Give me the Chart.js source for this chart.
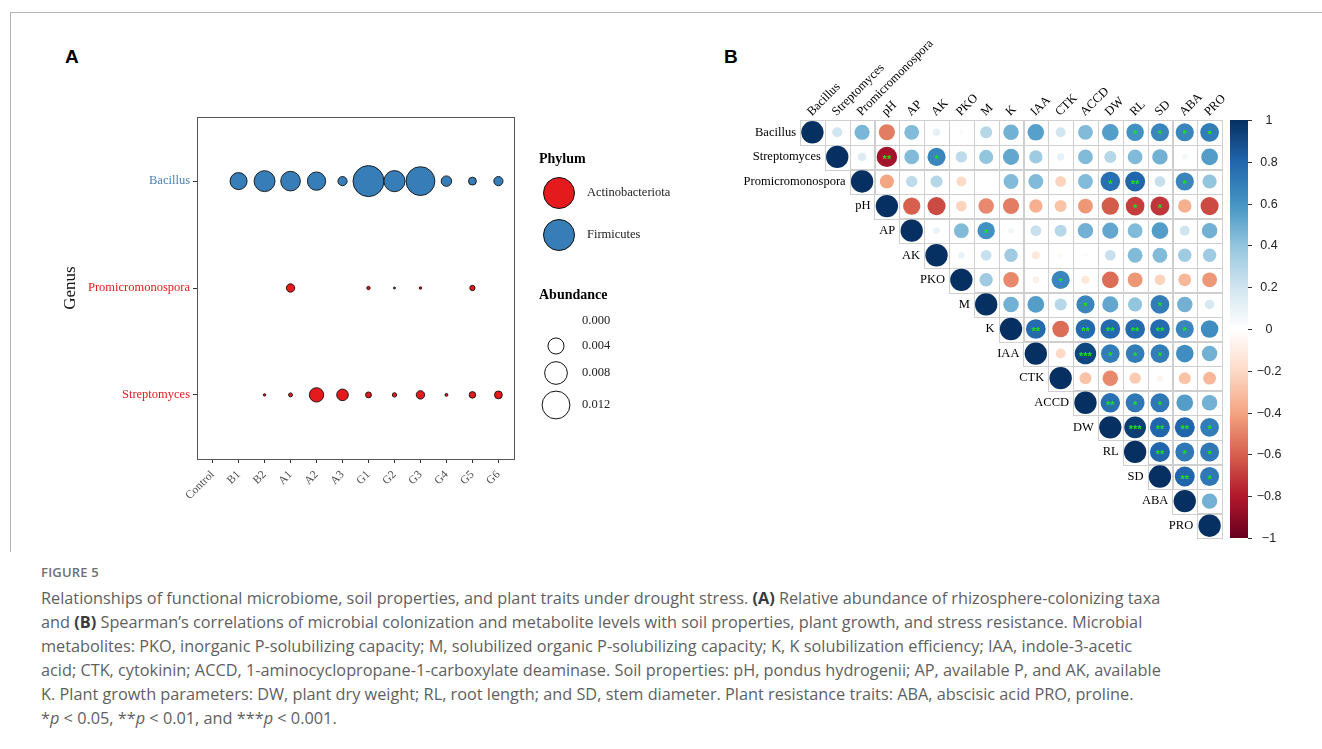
<!DOCTYPE html>
<html><head><meta charset="utf-8">
<script src="https://cdn.jsdelivr.net/npm/chart.js@4.4.1/dist/chart.umd.min.js"></script>
<style>
body{margin:0;background:#fff;width:1322px;height:749px;overflow:hidden;position:relative;font-family:'Open Sans',sans-serif}
#frameTop{position:absolute;left:10px;top:12px;width:1312px;height:0;border-top:1px solid #b4b4b4}
#frameLeft{position:absolute;left:10px;top:12px;width:0;height:540px;border-left:1px solid #b4b4b4}
.plabel{position:absolute;font-family:'Liberation Sans',Arial,sans-serif;font-weight:bold;font-size:19px;color:#000}
canvas{position:absolute}
#figlab{position:absolute;left:41px;top:563px;font-size:13px;font-weight:600;color:#707070;letter-spacing:0.2px}
#cap{position:absolute;left:41px;top:586px;font-size:16.3px;line-height:24px;color:#5f5f5f;white-space:nowrap}
#cap b{color:#3a3a3a}
</style></head><body>
<div id="frameTop"></div><div id="frameLeft"></div>
<div class="plabel" style="left:65px;top:46px">A</div>
<div class="plabel" style="left:724px;top:46px">B</div>
<canvas id="cA" width="700" height="560" style="left:0;top:0"></canvas>
<canvas id="cB" width="610" height="510" style="left:700px;top:40px"></canvas>
<div id="figlab">FIGURE 5</div>
<div id="cap">
<div>Relationships of functional microbiome, soil properties, and plant traits under drought stress. <b>(A)</b> Relative abundance of rhizosphere-colonizing taxa</div>
<div>and <b>(B)</b> Spearman’s correlations of microbial colonization and metabolite levels with soil properties, plant growth, and stress resistance. Microbial</div>
<div>metabolites: PKO, inorganic P-solubilizing capacity; M, solubilized organic P-solubilizing capacity; K, K solubilization efficiency; IAA, indole-3-acetic</div>
<div>acid; CTK, cytokinin; ACCD, 1-aminocyclopropane-1-carboxylate deaminase. Soil properties: pH, pondus hydrogenii; AP, available P, and AK, available</div>
<div>K. Plant growth parameters: DW, plant dry weight; RL, root length; and SD, stem diameter. Plant resistance traits: ABA, abscisic acid PRO, proline.</div>
<div>*<i>p</i> &lt; 0.05, **<i>p</i> &lt; 0.01, and ***<i>p</i> &lt; 0.001.</div>
</div>
<script>
// ---------- Panel A data ----------
const groups = ['Control','B1','B2','A1','A2','A3','G1','G2','G3','G4','G5','G6'];
const genera = ['Streptomyces','Promicromonospora','Bacillus']; // y = 0,1,2 (bottom to top)
const genusColors = ['#E41A1C','#E41A1C','#4682b4'];
const bacillus          = [0, 0.0045, 0.0068, 0.0060, 0.0052, 0.0013, 0.0149, 0.0069, 0.0129, 0.0017, 0.00095, 0.0013];
const promicromonospora = [0, 0, 0, 0.0011, 0, 0, 0.00017, 0.00006, 0.0001, 0, 0.00043, 0];
const streptomyces      = [0, 0, 0.00009, 0.00024, 0.0032, 0.0021, 0.00054, 0.00029, 0.0011, 0.00013, 0.00066, 0.00095];
const phyla = ['Actinobacteriota','Firmicutes'];
const phylumColors = ['#E41A1C','#377EB8'];
const sizeBreaks = [0.000, 0.004, 0.008, 0.012];

// ---------- Panel B data ----------
const vars = ['Bacillus','Streptomyces','Promicromonospora','pH','AP','AK','PKO','M','K','IAA','CTK','ACCD','DW','RL','SD','ABA','PRO'];
// upper triangle, each row lists correlations with the following variables
const corrBacillus = [0.2, 0.46, -0.52, 0.44, 0.11, 0.04, 0.29, 0.48, 0.55, 0.2, 0.44, 0.56, 0.61, 0.66, 0.66, 0.7];
const corrStreptomyces = [0.15, -0.84, 0.44, 0.66, 0.26, 0.4, 0.52, 0.36, 0.11, 0.44, 0.29, 0.44, 0.48, 0.06, 0.56];
const corrPromicromonospora = [-0.4, 0.26, 0.29, -0.2, 0.02, 0.44, 0.44, -0.23, 0.44, 0.76, 0.8, 0.23, 0.66, 0.4];
const corrPH = [-0.6, -0.66, -0.23, -0.48, -0.52, -0.36, -0.29, -0.44, -0.61, -0.7, -0.72, -0.36, -0.66];
const corrAP = [0.09, 0.44, 0.61, 0.06, 0.23, 0.29, 0.48, 0.52, 0.44, 0.56, 0.2, 0.48];
const corrAK = [0.09, 0.23, 0.36, -0.13, -0.04, -0.03, 0.23, 0.44, 0.44, 0.36, 0.36];
const corrPKO = [0.36, -0.48, -0.09, 0.66, -0.13, -0.56, -0.44, -0.23, -0.33, -0.44];
const corrM = [0.48, 0.56, 0.29, 0.66, 0.52, 0.4, 0.7, 0.48, 0.18];
const corrK = [0.78, -0.56, 0.78, 0.78, 0.78, 0.78, 0.66, 0.62];
const corrIAA = [-0.2, 0.92, 0.7, 0.7, 0.7, 0.62, 0.48];
const corrCTK = [-0.29, -0.48, -0.26, -0.07, -0.29, -0.33];
const corrACCD = [0.76, 0.72, 0.72, 0.56, 0.48];
const corrDW = [0.95, 0.8, 0.8, 0.7];
const corrRL = [0.8, 0.72, 0.72];
const corrSD = [0.8, 0.72];
const corrABA = [0.48];
const corrRows = [corrBacillus, corrStreptomyces, corrPromicromonospora, corrPH, corrAP, corrAK, corrPKO, corrM, corrK, corrIAA, corrCTK, corrACCD, corrDW, corrRL, corrSD, corrABA, []];
// significance marks, same layout as the correlation rows
const sigBacillus = ['','','','','','','','','','','','','*','*','*','*'];
const sigStreptomyces = ['','**','','*','','','','','','','','','','',''];
const sigPromicromonospora = ['','','','','','','','','','*','**','','*',''];
const sigPH = ['','','','','','','','','','*','*','',''];
const sigAP = ['','','*','','','','','','','','',''];
const sigAK = ['','','','','','','','','','',''];
const sigPKO = ['','','','*','','','','','',''];
const sigM = ['','','','*','','','*','',''];
const sigK = ['**','','**','**','**','**','*',''];
const sigIAA = ['','***','*','*','*','',''];
const sigCTK = ['','','','','',''];
const sigACCD = ['**','*','*','',''];
const sigDW = ['***','**','**','*'];
const sigRL = ['**','*','*'];
const sigSD = ['**','*'];
const sigABA = [''];
const sigRows = [sigBacillus, sigStreptomyces, sigPromicromonospora, sigPH, sigAP, sigAK, sigPKO, sigM, sigK, sigIAA, sigCTK, sigACCD, sigDW, sigRL, sigSD, sigABA, []];
const colorbarTicks = [1, 0.8, 0.6, 0.4, 0.2, 0, -0.2, -0.4, -0.6, -0.8, -1];
const rdbu = ['#67001F','#B2182B','#D6604D','#F4A582','#FDDBC7','#FFFFFF','#D1E5F0','#92C5DE','#4393C3','#2166AC','#053061'];

Chart.defaults.animation = false;
Chart.defaults.events = [];
const SERIF = "'Liberation Serif','Times New Roman',serif";
const SANS = "'Liberation Sans',Arial,sans-serif";

// ================= Panel A =================
const K = 127; // px per sqrt(abundance)
const sizeOf = v => K * Math.sqrt(v);
function pts(arr, y){ return arr.map((v,i)=>({x:i, y:y, v:v})).filter(d=>d.v>0); }

const legendA = {
  id:'legendA',
  beforeDatasetsDraw(chart){
    const {ctx, chartArea:a} = chart;
    ctx.save();
    ctx.strokeStyle = '#555'; ctx.lineWidth = 1;
    ctx.strokeRect(Math.round(a.left)+0.5, Math.round(a.top)+0.5, Math.round(a.right-a.left), Math.round(a.bottom-a.top));
    ctx.restore();
  },
  afterDraw(chart){
    const ctx = chart.ctx;
    ctx.save();
    ctx.textBaseline = 'middle'; ctx.textAlign = 'left';
    ctx.fillStyle = '#000';
    ctx.font = 'bold 14px ' + SERIF;
    ctx.fillText('Phylum', 539, 159);
    const ly = [193, 235];
    phyla.forEach((p,i)=>{
      ctx.beginPath(); ctx.arc(559, ly[i], 15.5, 0, Math.PI*2);
      ctx.fillStyle = phylumColors[i]; ctx.fill();
      ctx.strokeStyle = '#111'; ctx.lineWidth = 1; ctx.stroke();
      ctx.fillStyle = '#222'; ctx.font = '12.5px ' + SERIF;
      ctx.fillText(p, 587, ly[i]);
    });
    ctx.fillStyle = '#000'; ctx.font = 'bold 14px ' + SERIF;
    ctx.fillText('Abundance', 539, 295);
    const sy = [321, 346, 373, 405];
    sizeBreaks.forEach((b,i)=>{
      if (b > 0){
        ctx.beginPath(); ctx.arc(556, sy[i], sizeOf(b), 0, Math.PI*2);
        ctx.fillStyle = '#fff'; ctx.fill();
        ctx.strokeStyle = '#111'; ctx.lineWidth = 1; ctx.stroke();
      }
      ctx.fillStyle = '#222'; ctx.font = '12.5px ' + SERIF;
      ctx.fillText(b.toFixed(3), 582, sy[i]);
    });
    ctx.restore();
  }
};

new Chart(document.getElementById('cA'), {
  type:'scatter',
  data:{datasets:[
    {label:'Firmicutes', data:pts(bacillus,2), backgroundColor:phylumColors[1]},
    {label:'Actinobacteriota', data:pts(promicromonospora,1).concat(pts(streptomyces,0)), backgroundColor:phylumColors[0]}
  ]},
  options:{
    responsive:false, devicePixelRatio:1,
    layout:{padding:{left:60,right:186,top:117,bottom:0}},
    elements:{point:{radius:ctx=>sizeOf(ctx.raw.v), borderColor:'#111', borderWidth:0.9, hoverRadius:ctx=>sizeOf(ctx.raw.v)}},
    plugins:{legend:{display:false}, tooltip:{enabled:false}},
    scales:{
      x:{type:'linear', min:-0.6, max:11.6,
         afterBuildTicks:s=>{s.ticks = groups.map((g,i)=>({value:i}));},
         afterFit:s=>{s.height = 101;},
         grid:{drawOnChartArea:false, tickLength:4, tickColor:'#333', lineWidth:1},
         border:{display:false},
         ticks:{autoSkip:false, minRotation:45, maxRotation:45, padding:5, color:'#4d4d4d', font:{family:SERIF, size:11.5}, callback:v=>groups[v]}},
      y:{type:'linear', min:-0.6, max:2.6,
         afterBuildTicks:s=>{s.ticks = genera.map((g,i)=>({value:i}));},
         afterFit:s=>{s.width = 137;},
         grid:{drawOnChartArea:false, tickLength:4, tickColor:'#333', lineWidth:1},
         border:{display:false},
         title:{display:true, text:'Genus', color:'#111', font:{family:SERIF, size:17}, padding:0},
         ticks:{padding:3, color:ctx=>genusColors[ctx.tick.value], font:{family:SERIF, size:12.5}, callback:v=>genera[v]}}
    }
  },
  plugins:[legendA]
});

// ================= Panel B =================
function hex2rgb(h){ return [1,3,5].map(i=>parseInt(h.substr(i,2),16)); }
const rdbuRGB = rdbu.map(hex2rgb);
function corrColor(v){
  const t = (v + 1) / 2 * (rdbu.length - 1);
  const i = Math.min(rdbu.length - 2, Math.floor(t)), f = t - i;
  const a = rdbuRGB[i], b = rdbuRGB[i+1];
  const c = a.map((x,k)=>Math.round(x + (b[k]-x)*f));
  return `rgb(${c[0]},${c[1]},${c[2]})`;
}
const cells = [];
vars.forEach((name,i)=>{
  for (let j=i; j<vars.length; j++){
    const v = (i===j) ? 1 : corrRows[i][j-i-1];
    const s = (i===j) ? '' : sigRows[i][j-i-1];
    cells.push({x:j, y:i, v:v, s:s});
  }
});

function cellW(chart){ const x = chart.scales.x; return x.getPixelForValue(1) - x.getPixelForValue(0); }
function cellH(chart){ const y = chart.scales.y; return y.getPixelForValue(1) - y.getPixelForValue(0); }

const corrPlugin = {
  id:'corrPlugin',
  beforeDatasetsDraw(chart){
    const {ctx, scales:{x,y}} = chart;
    const w = cellW(chart), h = cellH(chart);
    ctx.save();
    ctx.strokeStyle = '#cfcfcf'; ctx.lineWidth = 1;
    vars.forEach((n,i)=>{
      for (let j=i; j<vars.length; j++){
        const cx = x.getPixelForValue(j), cy = y.getPixelForValue(i);
        ctx.strokeRect(Math.round(cx - w/2)+0.5, Math.round(cy - h/2)+0.5, Math.round(w), Math.round(h));
      }
    });
    // row labels
    ctx.fillStyle = '#000'; ctx.font = '12.5px ' + SERIF;
    ctx.textAlign = 'right'; ctx.textBaseline = 'middle';
    vars.forEach((n,i)=>{
      ctx.fillText(n, x.getPixelForValue(i) - w/2 - 4, y.getPixelForValue(i));
    });
    // column labels
    ctx.textAlign = 'left';
    vars.forEach((n,j)=>{
      ctx.save();
      ctx.translate(x.getPixelForValue(j) - 3, y.getPixelForValue(0) - h/2 - 6);
      ctx.rotate(-Math.PI/4);
      ctx.fillText(n, 0, 0);
      ctx.restore();
    });
    ctx.restore();
  },
  afterDatasetsDraw(chart){
    const {ctx, chartArea:a, scales:{x,y}} = chart;
    ctx.save();
    // significance stars
    ctx.fillStyle = '#1fe01f'; ctx.font = 'bold 11px ' + SANS;
    ctx.textAlign = 'center'; ctx.textBaseline = 'middle';
    cells.forEach(c=>{ if (c.s) ctx.fillText(c.s, x.getPixelForValue(c.x), y.getPixelForValue(c.y) + 3); });
    // colour bar
    const pv = v => y.getPixelForValue((1 - v) / 2 * vars.length - 0.5);
    const top = pv(1), bot = pv(-1);
    const x0 = a.right + 8, x1 = a.right + 26;
    const g = ctx.createLinearGradient(0, top, 0, bot);
    rdbu.slice().reverse().forEach((c,i)=>g.addColorStop(i/(rdbu.length-1), c));
    ctx.fillStyle = g;
    ctx.fillRect(x0, top, x1 - x0, bot - top);
    ctx.strokeStyle = '#333'; ctx.lineWidth = 1;
    ctx.fillStyle = '#222'; ctx.font = '12.5px ' + SANS;
    ctx.textAlign = 'center';
    colorbarTicks.forEach(t=>{
      const py = Math.round(pv(t)) + 0.5;
      ctx.beginPath(); ctx.moveTo(x1, py); ctx.lineTo(x1 + 4, py); ctx.stroke();
      const lab = t === 0 ? '0' : (t < 0 ? '\u2212' : '') + (Math.abs(t) === 1 ? '1' : Math.abs(t).toFixed(1));
      ctx.fillText(lab, x1 + 21, py);
    });
    ctx.restore();
  }
};

new Chart(document.getElementById('cB'), {
  type:'scatter',
  data:{datasets:[{data:cells,
    backgroundColor:ctx=>corrColor(ctx.raw.v),
    borderWidth:0,
    pointRadius:ctx=>0.45 * Math.sqrt(Math.abs(ctx.raw.v)) * cellW(ctx.chart),
    pointHoverRadius:ctx=>0.45 * Math.sqrt(Math.abs(ctx.raw.v)) * cellW(ctx.chart)
  }]},
  options:{
    responsive:false, devicePixelRatio:1,
    layout:{padding:{left:100,right:88,top:80,bottom:12}},
    plugins:{legend:{display:false}, tooltip:{enabled:false}},
    scales:{
      x:{type:'linear', min:-0.5, max:16.5, display:false},
      y:{type:'linear', min:-0.5, max:16.5, reverse:true, display:false}
    }
  },
  plugins:[corrPlugin]
});
</script>
</body></html>
